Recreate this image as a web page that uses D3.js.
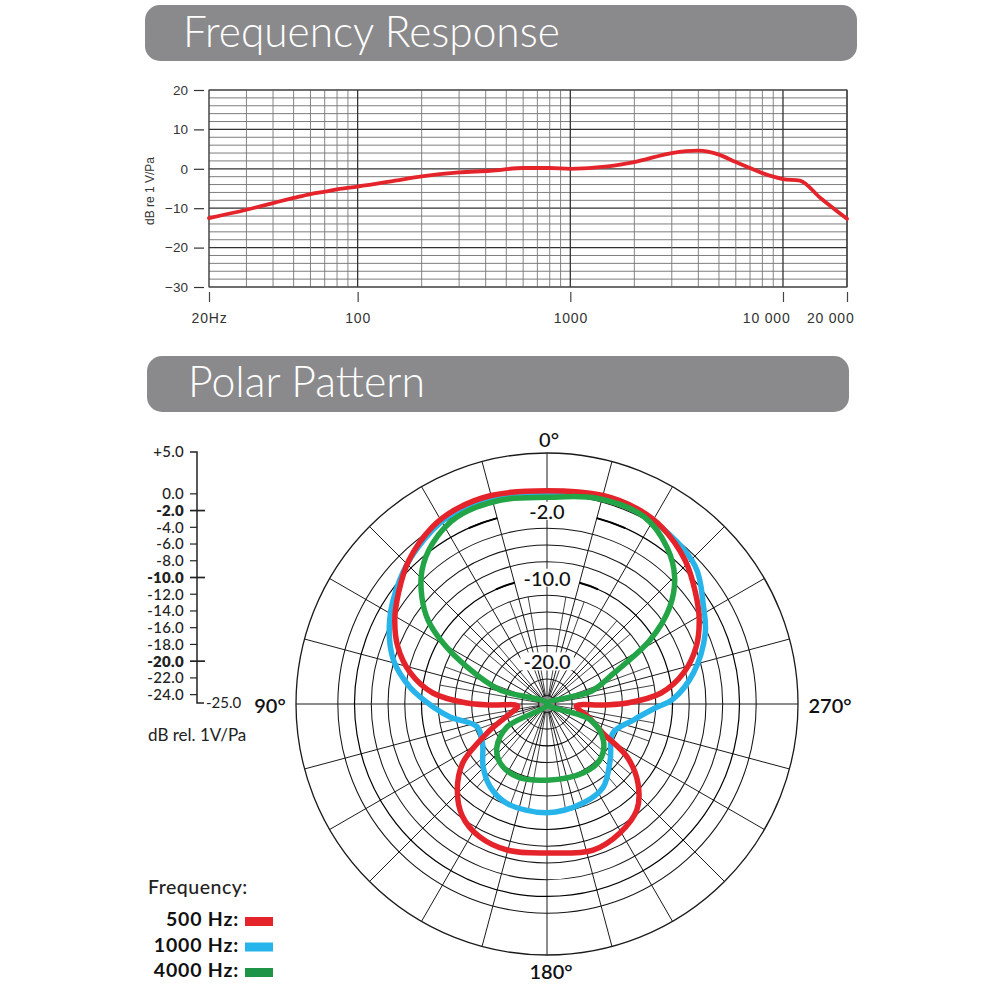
<!DOCTYPE html>
<html><head><meta charset="utf-8">
<script src="https://cdn.jsdelivr.net/npm/d3@7"></script>
<style>body{margin:0;background:#fff}svg{display:block}</style>
</head><body>
<svg id="c" width="1000" height="1000"></svg>
<script>
// ---------------- data ----------------
const headerTitles = ["Frequency Response", "Polar Pattern"];

const freqHz = [20,30,40,50,60,70,80,100,150,200,300,420,600,800,1000,1500,2000,3000,4000,5000,6000,7000,8000,10000,12000,15000,20000];
const respDb = [-12.5,-10.4,-8.7,-7.4,-6.4,-5.8,-5.2,-4.5,-3.0,-1.9,-0.9,-0.5,0.2,0.2,0.0,0.6,1.7,4.0,4.6,3.6,1.7,0.2,-1.1,-2.6,-3.0,-7.4,-12.7];
const freqYTicks = [20,10,0,-10,-20,-30];
const freqXTicks = [20,100,1000,10000,20000];
const freqXLabels = ["20Hz","100","1000","10 000","20 000"];
const freqYTitle = "dB re 1 V/Pa";

const polarScaleTicks = [0,-2,-4,-6,-8,-10,-12,-14,-16,-18,-20,-22,-24];
const polarBoldTicks = [-2,-10,-20];
const polarRings = [-24,-22,-20,-18,-16,-14,-12,-10,-8,-6,-4,-2,0];
const polarRingLabels = [-2,-10,-20];
const polarAngleLabels = [0,90,180,270];
const polarScaleTitle = "dB rel. 1V/Pa";

const seriesNames = ["500 Hz:","1000 Hz:","4000 Hz:"];
const seriesColors = ["#e5232a","#27b4ea","#22a447"];
const legendColors = ["#e5232a","#27b4ea","#1d9446"];
const legendTitle = "Frequency:";

const angles500 = [0,15,25,33,44,53,61,69,77,84.5,89.3,91,94,108,116,125,134,143,153,165,180,197.5,209.5,220.3,229,236.5,242.6,252,266,269,270.7,275.5,283,291,299,307,316,327,335,345];
const db500     = [0.5,0.8,0.7,0.2,-1.2,-2.8,-4.2,-5.9,-8.2,-11.3,-15.4,-18.4,-21.5,-19.7,-17.0,-12.7,-10.1,-8.2,-7.2,-6.9,-7.2,-6.7,-7.3,-8.4,-10.6,-13.5,-17.5,-19.7,-21.5,-18.4,-15.4,-11.3,-8.2,-5.9,-4.2,-2.8,-1.2,0.2,0.7,0.8];
const angles1000 = [0,15,28,40,50,62,74,83,91.5,97.6,108,121,134.5,145.5,158,180,200,214,228.4,246.3,259.5,268,272,282,294,302,313,330,345];
const db1000     = [0.3,0.6,0.3,-0.8,-2.0,-3.7,-5.9,-8.5,-11.4,-13.3,-16.2,-16.0,-14.3,-13.0,-12.2,-12.0,-12.4,-13.0,-14.9,-16.4,-14.5,-12.0,-10.0,-7.1,-4.3,-2.95,-0.8,0.3,0.6];
const angles4000 = [0,13,25.7,35.3,43,49.4,54.8,59.6,65.2,73.4,90,119.9,130.7,141.5,157.7,180,207.6,223.4,237.3,250,270,286,294.8,301.8,308.3,314.8,322.6,332.6,346.4];
const db4000     = [-0.3,0.0,-0.2,-1.4,-3.1,-5.3,-7.6,-10.6,-14.5,-19.1,-25,-19.5,-17.1,-16.0,-15.6,-15.9,-15.7,-15.8,-17.0,-19.5,-25,-19.5,-16.2,-10.5,-6.3,-3.5,-1.4,0.2,0.3];

// ---------------- drawing ----------------
const svg = d3.select("#c");
const LBL = "Lato, 'Open Sans', sans-serif";
const ARL = "'Liberation Sans', Arial, sans-serif";

// headers
const headers = [{x:145,y:5,w:712,h:56,tx:183,ty:47,tw:377},{x:147,y:356,w:702,h:56,tx:188,ty:397,tw:237}];
headers.forEach((h,i)=>{
  svg.append("rect").attr("x",h.x).attr("y",h.y).attr("width",h.w).attr("height",h.h)
     .attr("rx",15).attr("fill","#8a8a8c");
  const t = svg.append("text").attr("x",h.tx).attr("y",h.ty).text(headerTitles[i])
     .attr("fill","#fff").attr("font-family",LBL).attr("font-weight",300).attr("font-size",40);
  const w = t.node().getComputedTextLength();
  t.attr("font-size", 40*h.tw/w);
});

// ---- frequency response ----
const fx = d3.scaleLog().domain([20,20000]).range([209,847]);
const fy = d3.scaleLinear().domain([-30,20]).range([287,90]);
const fg = svg.append("g");
const vGrid = [];
[10,100,1000,10000].forEach(d=>{for(let m=1;m<10;m++){const v=d*m; if(v>=20&&v<=20000) vGrid.push(v);}});
vGrid.push(20000);
fg.selectAll(".hg").data(d3.range(-30,21,2)).join("line")
  .attr("x1",fx(20)).attr("x2",fx(20000)).attr("y1",d=>fy(d)).attr("y2",d=>fy(d))
  .attr("stroke",d=>d%10===0?"#333":"#6e6e6e").attr("stroke-width",d=>d%10===0?1.2:0.9);
fg.selectAll(".vg").data(vGrid).join("line")
  .attr("y1",fy(20)).attr("y2",fy(-30)).attr("x1",d=>fx(d)).attr("x2",d=>fx(d))
  .attr("stroke",d=>[100,1000,10000,20,20000].includes(d)?"#333":"#777")
  .attr("stroke-width",d=>[100,1000,10000].includes(d)?1.3:0.9);
fg.append("rect").attr("x",fx(20)).attr("y",fy(20)).attr("width",fx(20000)-fx(20)).attr("height",fy(-30)-fy(20))
  .attr("fill","none").attr("stroke","#444").attr("stroke-width",1);

const yAx = svg.append("g").attr("transform","translate(204,0)")
  .call(d3.axisLeft(fy).tickValues(freqYTicks).tickSize(10).tickPadding(6).tickFormat(d3.format("d")));
yAx.select(".domain").remove();
yAx.selectAll("line").attr("stroke","#333").attr("stroke-width",1.2);
yAx.selectAll("text").attr("font-family",ARL).attr("font-size",13.5).attr("fill","#333");

const xAx = svg.append("g").attr("transform","translate(0,292)")
  .call(d3.axisBottom(fx).tickValues(freqXTicks).tickSize(10).tickPadding(11).tickFormat((d,i)=>freqXLabels[i]));
xAx.select(".domain").remove();
xAx.selectAll("line").attr("stroke","#444").attr("stroke-width",1.2);
xAx.selectAll("text").attr("font-family",ARL).attr("font-size",14).attr("fill","#333")
  .attr("letter-spacing",0.8);
xAx.selectAll(".tick").filter(d=>d>=10000).select("text").attr("text-anchor","end").attr("dx",7);

svg.append("text").attr("transform","translate(154,191) rotate(-90)").attr("text-anchor","middle")
  .attr("font-family",ARL).attr("font-size",12).attr("fill","#333").text(freqYTitle);

const fline = d3.line().x((d,i)=>fx(freqHz[i])).y(d=>fy(d)).curve(d3.curveMonotoneX);
svg.append("path").attr("d",fline(respDb)).attr("fill","none").attr("stroke","#e5232a")
  .attr("stroke-width",3.8).attr("stroke-linecap","round");

// ---- polar pattern ----
const cx = 547, cy = 704;
const pr = d3.scaleLinear().domain([-25,5]).range([0,251]);
const pg = svg.append("g").attr("transform",`translate(${cx},${cy})`);
const rad = a => a*Math.PI/180;
// spokes (screen angle: 0 top, 90 to the left)
const major = d3.range(0,360,15);
const minor = d3.range(0,360,10).filter(a=>a%15!==0);
pg.selectAll(".sp").data(major).join("line")
  .attr("x1",0).attr("y1",0)
  .attr("x2",a=>-pr(5)*Math.sin(rad(a))).attr("y2",a=>-pr(5)*Math.cos(rad(a)))
  .attr("stroke","#1a1a1a").attr("stroke-width",1);
pg.selectAll(".sm").data(minor).join("line")
  .attr("x1",0).attr("y1",0)
  .attr("x2",a=>-pr(-12)*Math.sin(rad(a))).attr("y2",a=>-pr(-12)*Math.cos(rad(a)))
  .attr("stroke","#222").attr("stroke-width",0.85);
// plain rings
pg.selectAll(".rg").data(polarRings.filter(d=>!polarRingLabels.includes(d))).join("circle")
  .attr("r",d=>pr(d)).attr("fill","none").attr("stroke","#161616").attr("stroke-width",1.05);
// labelled rings: gap around the label, heavier segments beside it
const gapDeg = {"-2":15,"-10":15,"-20":24};
polarRingLabels.forEach(v=>{
  const g = gapDeg[v];
  const arc = d3.arc().innerRadius(pr(v)).outerRadius(pr(v));
  pg.append("path").attr("d",arc({startAngle:rad(g),endAngle:rad(360-g)}))
    .attr("fill","none").attr("stroke","#000").attr("stroke-width",1.2);
  [[g,g+9],[360-g-9,360-g]].forEach(([a0,a1])=>{
    pg.append("path").attr("d",arc({startAngle:rad(a0),endAngle:rad(a1)}))
      .attr("fill","none").attr("stroke","#000").attr("stroke-width",2);
  });
});
pg.append("circle").attr("r",pr(5)).attr("fill","none").attr("stroke","#1a1a1a").attr("stroke-width",1.3);
pg.append("circle").attr("r",pr(-24)).attr("fill","#8a8a8a").attr("stroke","#222").attr("stroke-width",1);
pg.append("circle").attr("r",3).attr("fill","#111");

// curves
const radial = d3.lineRadial().angle(d=>-rad(d[0])).radius(d=>pr(Math.max(-25,d[1]))).curve(d3.curveCatmullRomClosed.alpha(0.5));
const series = [
  {a:angles1000, v:db1000, c:seriesColors[1]},
  {a:angles500, v:db500, c:seriesColors[0]},
  {a:angles4000, v:db4000, c:seriesColors[2]}
];
series.forEach(s=>{
  pg.append("path").attr("d",radial(s.a.map((a,i)=>[a,s.v[i]])))
    .attr("fill","none").attr("stroke",s.c).attr("stroke-width",5.5).attr("stroke-linejoin","round");
});

// ring labels with white backing
polarRingLabels.forEach(v=>{
  const t = pg.append("text").attr("x",0).attr("y",-pr(v)).attr("dy","0.36em").attr("text-anchor","middle")
    .attr("font-family",LBL).attr("font-size",20).attr("font-weight",500).attr("fill","#111").text(v.toFixed(1));
  const b = t.node().getBBox();
  pg.insert("rect","text").attr("x",b.x-3).attr("y",b.y+3).attr("width",b.width+6).attr("height",b.height-6).attr("fill","#fff");
});
pg.selectAll("text").raise();

// angle labels
const angPos = {0:[2,-264],90:[-277,2],180:[4,268],270:[283,2]};
polarAngleLabels.forEach(a=>{
  pg.append("text").attr("x",angPos[a][0]).attr("y",angPos[a][1]).attr("dy","0.35em").attr("text-anchor","middle")
    .attr("font-family",LBL).attr("font-size",20).attr("font-weight",a===0?500:600).attr("fill","#111").text(a+"°");
});

// left dB scale
const sy = d3.scaleLinear().domain([-25,5]).range([703,452]);
const sg = svg.append("g");
sg.append("path").attr("d",`M190,${sy(5)}H197V${sy(-25)}H204`).attr("fill","none").attr("stroke","#222").attr("stroke-width",1.5);
sg.selectAll(".tk").data(polarScaleTicks).join("line")
  .attr("x1",190).attr("x2",d=>polarBoldTicks.includes(d)?205:197)
  .attr("y1",d=>sy(d)).attr("y2",d=>sy(d)).attr("stroke","#222").attr("stroke-width",d=>polarBoldTicks.includes(d)?1.7:1.2);
sg.selectAll(".tl").data([5].concat(polarScaleTicks)).join("text")
  .attr("x",184).attr("y",d=>sy(d)).attr("dy","0.36em").attr("text-anchor","end")
  .attr("font-family",LBL).attr("font-size",15).attr("letter-spacing",0.3).attr("fill","#222")
  .attr("font-weight",d=>polarBoldTicks.includes(d)?800:500)
  .text(d=>(d>0?"+":"")+d.toFixed(1));
sg.append("text").attr("x",206).attr("y",sy(-25)).attr("dy","0.36em").attr("font-family",LBL).attr("font-size",15).attr("fill","#222").text((-25).toFixed(1));
sg.append("text").attr("x",148).attr("y",741).attr("font-family",LBL).attr("font-size",17).attr("fill","#222").text(polarScaleTitle);

// legend
svg.append("text").attr("x",148).attr("y",894).attr("font-family",LBL).attr("font-size",19.5).attr("letter-spacing",0.5).attr("font-weight",500).attr("fill","#222").text(legendTitle);
seriesNames.forEach((n,i)=>{
  const y = 926 + i*25.5;
  svg.append("text").attr("x",239).attr("y",y).attr("text-anchor","end").attr("font-family",LBL)
    .attr("font-size",19.5).attr("letter-spacing",0.8).attr("font-weight",700).attr("fill","#111").text(n);
  svg.append("rect").attr("x",245).attr("y",y-9).attr("width",28).attr("height",9).attr("fill",legendColors[i]);
});
</script>
</body></html>
